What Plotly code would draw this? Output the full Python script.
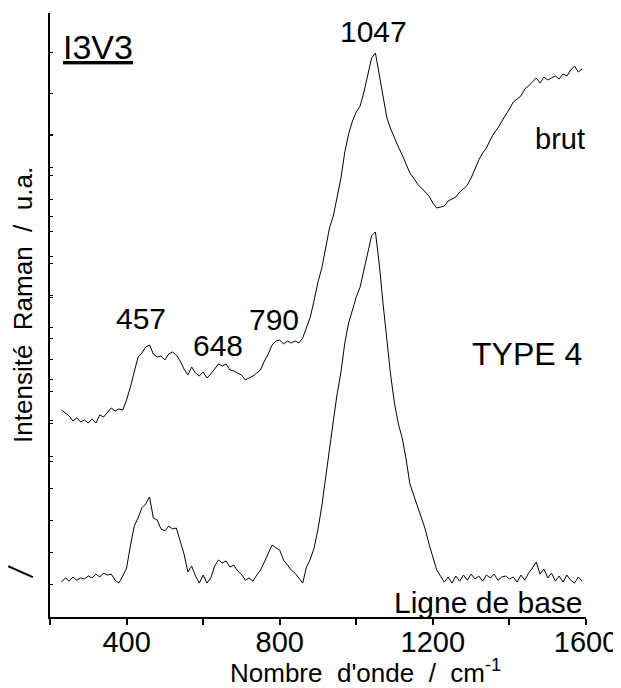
"""Raman spectrum I3V3 (type 4): raw spectrum and baseline-corrected spectrum."""

import plotly.graph_objects as go

# wavenumber grid (cm-1)
wavenumber = list(range(230, 1600, 10))

# raw spectrum ("brut"), plotted against the second y axis
brut = [
    1250, 1176, 1103, 980, 1054, 956, 1005, 931, 1029, 931,
    1127, 1078, 1201, 1299, 1225, 1274, 1250, 1495, 1813, 2181,
    2548, 2646, 2793, 2842, 2622, 2548, 2573, 2475, 2622, 2671,
    2597, 2450, 2254, 2107, 2303, 2156, 2083, 2181, 2034, 2132,
    2254, 2377, 2328, 2377, 2230, 2205, 2156, 2107, 1985, 2034,
    2083, 2156, 2230, 2450, 2622, 2842, 2940, 2965, 2867, 2940,
    2891, 2940, 2891, 3014, 3259, 3528, 3945, 4386, 4729, 5194,
    5709, 6003, 6444, 6934, 7571, 8012, 8330, 8551, 8698, 9041,
    9457, 9874, 9996, 9482, 8967, 8404, 8134, 7889, 7693, 7497,
    7277, 7056, 6934, 6787, 6689, 6591, 6493, 6321, 6199, 6223,
    6248, 6370, 6419, 6468, 6591, 6664, 6762, 6934, 7154, 7375,
    7546, 7669, 7865, 8036, 8159, 8330, 8477, 8624, 8796, 8869,
    8943, 9114, 9188, 9286, 9384, 9261, 9408, 9335, 9384, 9433,
    9359, 9482, 9433, 9580, 9678, 9531, 9604,
]

# baseline-corrected spectrum ("Ligne de base")
corrige = [
    6, 19, 9, 22, 12, 19, 16, 25, 19, 31,
    22, 34, 28, 31, 12, 3, 25, 50, 119, 181,
    206, 238, 250, 272, 206, 200, 172, 166, 181, 172,
    175, 138, 94, 38, 56, 25, 3, 28, 3, 19,
    56, 75, 66, 72, 53, 59, 41, 31, 12, 19,
    9, 28, 44, 69, 94, 122, 113, 106, 75, 59,
    44, 34, 19, 3, 53, 78, 113, 172, 244, 338,
    422, 509, 594, 663, 753, 816, 856, 897, 928, 981,
    1031, 1088, 1100, 1000, 875, 759, 650, 563, 500, 456,
    391, 313, 278, 238, 206, 172, 125, 81, 44, 25,
    6, 22, 3, 25, 9, 28, 12, 31, 16, 25,
    9, 28, 19, 31, 12, 22, 25, 16, 22, 6,
    28, 12, 34, 50, 69, 31, 47, 19, 34, 9,
    25, 6, 28, 12, 3, 22, 9,
]

x_ticks = [400, 800, 1200, 1600]

peak_labels = ["457", "648", "790", "1047"]

FONT = "Arial, Liberation Sans, sans-serif"

fig = go.Figure()
fig.add_trace(
    go.Scatter(
        x=wavenumber,
        y=corrige,
        mode="lines",
        name="Ligne de base",
        line=dict(color="black", width=1),
        yaxis="y",
    )
)
fig.add_trace(
    go.Scatter(
        x=wavenumber,
        y=brut,
        mode="lines",
        name="brut",
        line=dict(color="black", width=1),
        yaxis="y2",
    )
)

# text labels (paper coordinates), centred on the given point
labels = [
    (peak_labels[3], 0.603, 0.970, 30),
    (peak_labels[0], 0.170, 0.495, 30),
    (peak_labels[1], 0.313, 0.450, 30),
    (peak_labels[2], 0.418, 0.492, 30),
    ("brut", 0.951, 0.791, 29),
    ("TYPE 4", 0.890, 0.435, 32),
]
for text, xp, yp, size in labels:
    fig.add_annotation(
        text=text, x=xp, y=yp, xref="paper", yref="paper",
        xanchor="center", yanchor="middle",
        showarrow=False, font=dict(size=size, color="black", family=FONT),
    )

fig.add_annotation(
    text="Ligne\u00a0de\u00a0base", x=0.998, y=0.024, xref="paper", yref="paper",
    xanchor="right", yanchor="middle",
    showarrow=False, font=dict(size=30, color="black", family=FONT),
)
fig.add_annotation(
    text="<u>I3V3</u>", x=0.0205, y=0.944, xref="paper", yref="paper",
    xanchor="left", yanchor="middle",
    showarrow=False, font=dict(size=34, color="black", family=FONT),
)
fig.add_annotation(
    text="Nombre\u00a0\u00a0d'onde\u00a0\u00a0/\u00a0\u00a0cm<sup>-1</sup>",
    x=0.588, y=-0.09, xref="paper", yref="paper",
    xanchor="center", yanchor="middle",
    showarrow=False, font=dict(size=26, color="black", family=FONT),
)
fig.add_annotation(
    text="Intensité\u00a0\u00a0Raman\u00a0\u00a0/\u00a0\u00a0u.a.",
    x=-0.05, y=0.517, xref="paper", yref="paper", textangle=-90,
    xanchor="center", yanchor="middle",
    showarrow=False, font=dict(size=26, color="black", family=FONT),
)

# small stray stroke left of the axis
fig.add_shape(
    type="line", xref="paper", yref="paper",
    x0=-0.078, y0=0.084, x1=-0.032, y1=0.066,
    line=dict(color="black", width=2),
)

# the page body adds an 8 px offset, so the figure is 8 px smaller
fig.update_layout(
    template="none",
    width=613,
    height=680,
    margin=dict(l=42, r=35, t=5, b=71),
    paper_bgcolor="white",
    plot_bgcolor="white",
    showlegend=False,
    font=dict(family=FONT, color="black"),
    xaxis=dict(
        automargin=False,
        range=[200, 1600],
        tickmode="array",
        tickvals=x_ticks,
        ticks="outside",
        ticklen=6,
        tickwidth=1.5,
        tickcolor="black",
        ticklabelstandoff=-8,
        tickfont=dict(size=29, color="black", family=FONT),
        minor=dict(tick0=200, dtick=200, ticks="outside", ticklen=6,
                   tickwidth=1.5, tickcolor="black", showgrid=False),
        showline=True,
        linecolor="black",
        linewidth=2,
        showgrid=False,
        zeroline=False,
    ),
    yaxis=dict(
        automargin=False,
        range=[-103, 1784],
        tickmode="array",
        tickvals=list(range(0, 1401, 100)),
        ticks="inside",
        ticklen=3,
        tickcolor="black",
        showticklabels=False,
        showline=True,
        linecolor="black",
        linewidth=2,
        showgrid=False,
        zeroline=False,
    ),
    yaxis2=dict(
        automargin=False,
        range=[-3822, 10976],
        overlaying="y",
        side="left",
        anchor="x",
        tickmode="array",
        tickvals=list(range(0, 10001, 1000)),
        ticks="inside",
        ticklen=3,
        tickcolor="black",
        showticklabels=False,
        showline=False,
        showgrid=False,
        zeroline=False,
    ),
)

fig.write_html("out.html")
